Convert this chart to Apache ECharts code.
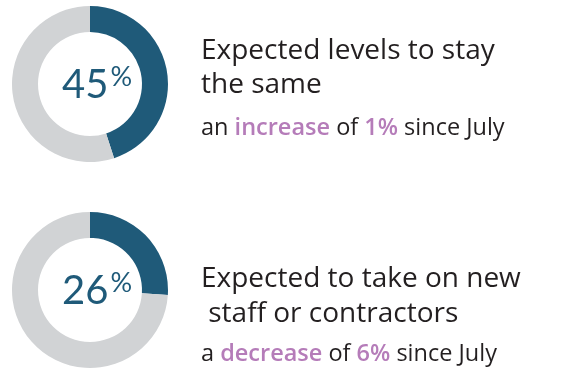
<!DOCTYPE html>
<html><head><meta charset="utf-8">
<script src="https://cdn.jsdelivr.net/npm/echarts@6/dist/echarts.min.js"></script>
<style>html,body{margin:0;padding:0;background:#fff}#c{width:569px;height:372px}</style>
</head><body><div id="c"></div>
<script>
const values = [45, 26];
const titles = [["Expected levels to stay", "the same"], ["Expected to take on new", " staff or contractors"]];
const articles = ["an", "a"];
const directions = ["increase", "decrease"];
const changes = ["1%", "6%"];

const NUMFONT = 'Lato';
const FONT = 'Open Sans';
const BLUE = '#1f5a79';
const GREY = '#d1d3d5';
const PURPLE = '#b57cb9';
const DARK = '#231f20';

const centersY = [84, 290];
const series = values.map((v, i) => ({
  type: 'pie',
  silent: true,
  center: [90, centersY[i]],
  radius: [52, 78],
  startAngle: 90,
  clockwise: true,
  label: {show: false},
  labelLine: {show: false},
  data: [
    {value: v, itemStyle: {color: BLUE}},
    {value: 100 - v, itemStyle: {color: GREY}}
  ]
}));

const graphic = [];
values.forEach((v, i) => {
  graphic.push({
    type: 'text', left: 90 - 28, top: centersY[i] - 20,
    style: {
      text: '{n|' + v + '}{p|%}',
      rich: {
        n: {fontFamily: NUMFONT, fontSize: 40, fill: BLUE, verticalAlign: 'bottom'},
        p: {fontFamily: NUMFONT, fontSize: 27, fill: BLUE, verticalAlign: 'top', padding: [0,0,14,2]}
      }
    }
  });
});
const baseY = [[62, 96, 137], [290, 325, 363]];
titles.forEach((t, i) => {
  t.forEach((line, j) => {
    graphic.push({type: 'text', x: 201, y: baseY[i][j] - 10.5, style: {text: line, fontFamily: FONT, fontSize: 28, fill: DARK, verticalAlign: 'middle'}});
  });
  graphic.push({type: 'text', x: 201, y: baseY[i][2] - 9, style: {
    verticalAlign: 'middle',
    text: '{r|' + articles[i] + ' }{b|' + directions[i] + '}{r| of }{b|' + changes[i] + '}{r| since July}',
    rich: {
      r: {fontFamily: FONT, fontSize: 23.5, fill: DARK},
      b: {fontFamily: FONT, fontSize: 23.5, fontWeight: 600, fill: PURPLE}
    }
  }});
});

const chart = echarts.init(document.getElementById('c'));
chart.setOption({animation: false, series, graphic});
</script></body></html>
